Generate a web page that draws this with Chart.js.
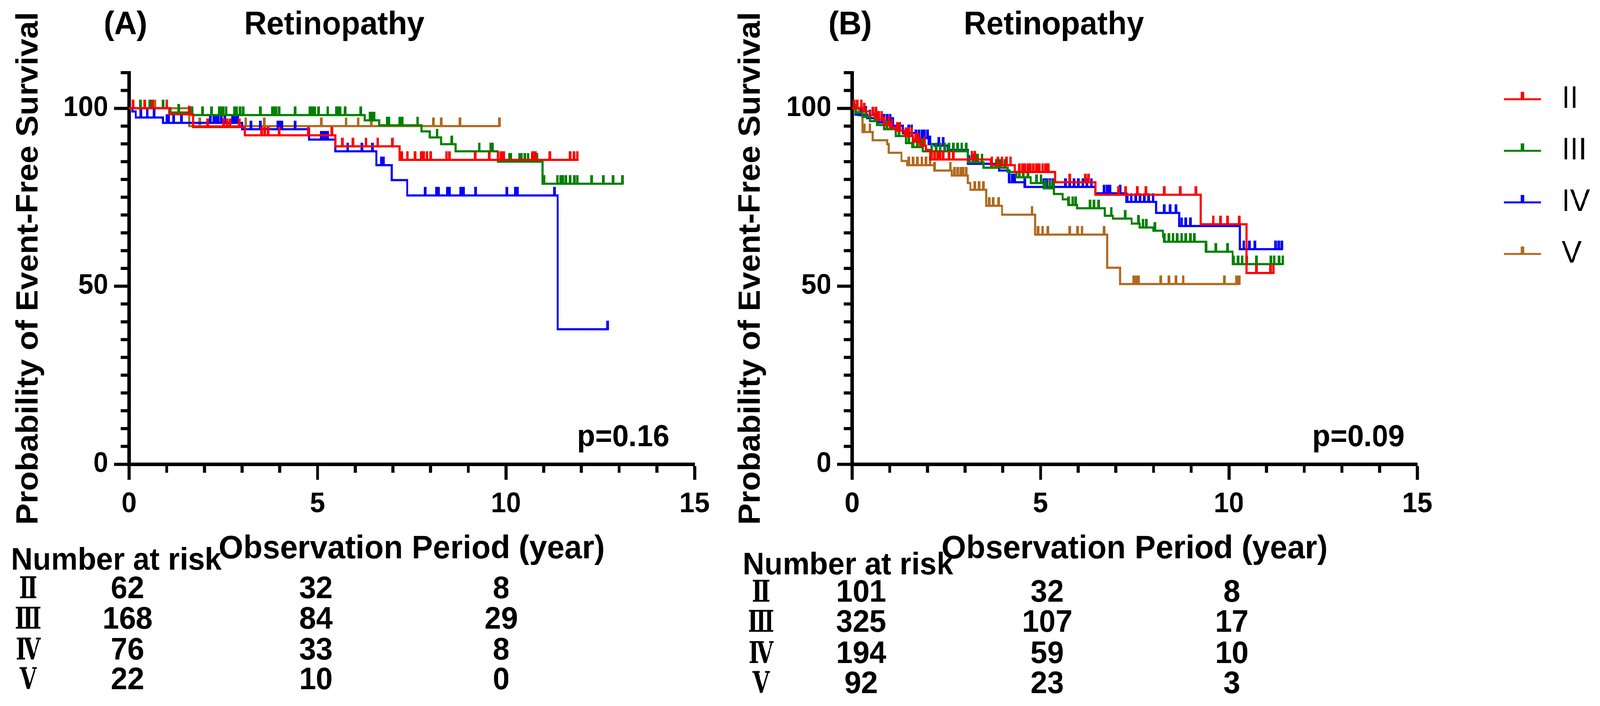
<!DOCTYPE html>
<html>
<head>
<meta charset="utf-8">
<script src="https://cdn.jsdelivr.net/npm/chart.js@4.4.1/dist/chart.umd.min.js"></script>
<style>
  html, body { margin: 0; padding: 0; background: #fff; overflow: hidden; }
  #wrap { position: absolute; left: 0; top: 0; width: 4255px; height: 1807px; background: #fff; transform-origin: 0 0; }
  #wrap canvas { position: absolute; top: 0; }
  #chartA { left: 0; }
  #chartB { left: 1940px; }
</style>
</head>
<body>
<div id="wrap">
  <canvas id="chartA" width="1940" height="1807"></canvas>
  <canvas id="chartB" width="2315" height="1807"></canvas>
</div>
<script>
const groups = ["II", "III", "IV", "V"];
const rowLabels = ["Ⅱ", "Ⅲ", "Ⅳ", "Ⅴ"];
const xTicks = [0, 5, 10, 15];
const yTicks = [0, 50, 100];
const riskTimes = [0, 5, 10];

// (A) Kaplan-Meier steps: [year, survival %]
const aSteps2 = [[0,100],[1.07,98.3],[1.7,94.7],[3.07,92.4],[5.47,89.3],[7.18,85.5],[11.93,85.5]];
const aSteps3 = [[0,100],[1.1,98.8],[1.67,98.1],[6.25,96.6],[6.64,95.2],[7.76,93.5],[7.98,91.8],[8.28,89.9],[8.66,87.9],[9.78,85.0],[10.97,78.8],[13.1,78.8]];
const aSteps4 = [[0,100],[0.09,99.1],[0.18,97.4],[0.9,95.9],[3.0,94.1],[4.78,91.2],[5.47,87.9],[6.56,84.0],[6.97,79.8],[7.38,75.5],[11.37,37.9],[12.71,37.9]];
const aSteps5 = [[0,100],[1.6,95.0],[9.83,95.0]];

// (A) censored times
const aCens2 = [0.1,0.41,0.62,1.0,1.6,2.09,2.51,2.6,2.68,2.93,3.52,3.6,3.7,3.98,4.76,5.38,5.66,5.94,6.29,6.6,6.99,7.24,7.39,7.58,7.75,7.81,7.9,8.0,8.42,8.5,9.18,9.56,9.79,9.87,9.94,10.71,10.78,11.17,11.7,11.8,11.89];
const aCens3 = [0.1,0.3,0.55,0.9,1.0,1.32,1.67,1.95,2.19,2.4,2.44,2.5,2.58,2.8,2.86,2.95,3.03,3.49,3.8,3.84,3.9,3.98,4.4,4.8,4.85,4.92,5.03,5.27,5.5,5.55,5.6,5.73,6.15,6.4,6.46,6.5,6.85,6.9,7.19,7.25,7.65,8.17,8.56,9.29,9.6,9.64,10.1,10.13,10.36,10.41,10.5,10.59,10.7,10.82,11.01,11.36,11.45,11.5,11.58,11.7,11.81,11.89,12.27,12.58,12.84,13.09];
const aCens4 = [0.31,0.48,0.66,1.0,1.05,1.18,1.39,2.16,2.25,2.3,2.37,2.45,2.54,2.75,2.82,2.89,3.24,3.49,3.94,4.0,4.05,4.4,5.1,5.15,5.2,5.27,5.8,6.18,6.46,6.7,6.75,7.85,8.15,8.21,8.44,8.5,8.8,8.87,9.19,10.02,10.25,10.31,11.28,12.69];
const aCens5 = [0.69,1.88,3.1,3.59,5.1,5.76,6.08,6.43,8.07,8.28,8.78,9.83];

// (B) Kaplan-Meier steps
const bSteps2 = [[0,100],[0.28,99.1],[0.47,98],[0.65,96.8],[0.85,95.3],[1.0,94.5],[1.16,93.7],[1.39,92.2],[1.62,90.6],[1.8,89.5],[1.96,88.3],[2.07,85.6],[3.68,84],[4.32,82.1],[5.39,79.2],[6.46,75.7],[9.25,67.4],[10.47,53.7],[11.2,53.7]];
const bSteps3 = [[0,100],[0.09,98.8],[0.28,97.6],[0.47,96.4],[0.66,95.3],[0.85,94.1],[1.16,92.2],[1.43,90.2],[1.6,89.1],[1.88,87.9],[3.07,84.8],[3.49,83.3],[4.13,82.1],[4.36,80.6],[4.74,79],[5.09,77.5],[5.36,75.9],[5.59,74.4],[5.74,72.8],[5.97,71.9],[6.71,69.8],[6.92,69],[7.42,67.6],[7.63,66.5],[8.0,65.6],[8.25,63.9],[8.29,62.5],[9.4,59.7],[10.1,56.2],[11.43,56.2]];
const bSteps4 = [[0,100],[0.09,98.2],[0.4,97.2],[0.7,96],[1.08,95.1],[1.35,93],[1.69,91.6],[2.03,89.9],[2.19,89.5],[2.54,88.3],[3.07,84.4],[3.9,82.5],[4.17,79.2],[4.59,77.9],[6.46,76.1],[7.28,73.7],[8.07,70.6],[8.68,66.9],[10.29,60.4],[11.43,60.4]];
const bSteps5 = [[0,100],[0.17,98],[0.28,93.3],[0.55,91],[0.93,89.9],[0.97,87.5],[1.31,85.2],[1.46,84],[2.19,82.5],[2.65,81.1],[3.07,79],[3.14,77.1],[3.56,72.6],[3.98,70.1],[4.86,64.5],[6.77,55.2],[7.11,50.6],[10.27,50.6]];

// (B) censored times
const bCens2 = [0.05,0.13,0.24,0.32,0.55,0.63,0.7,0.78,0.85,0.97,1.05,1.2,1.27,1.43,1.5,1.58,1.69,1.75,1.81,1.92,2.11,2.19,2.27,2.34,2.42,2.57,2.69,3.18,3.26,3.71,3.87,3.98,4.1,4.21,4.44,4.52,4.59,4.67,4.74,4.82,4.9,4.97,5.05,5.13,5.2,5.77,6.19,6.27,7.07,7.26,7.57,7.8,8.29,8.71,9.13,9.59,9.78,9.97,10.27,10.73,11.1,11.18];
const bCens3 = [0.09,0.36,0.61,0.92,1.24,1.5,1.62,1.73,1.85,2.11,2.23,2.34,2.46,2.57,2.69,2.8,2.91,3.03,3.22,3.33,3.45,3.71,3.83,3.94,4.06,4.44,4.55,4.67,4.9,5.01,5.13,5.24,5.35,5.74,5.85,5.93,6.31,6.42,6.54,6.88,7.25,7.6,7.72,7.81,8.04,8.29,8.41,8.52,8.63,8.75,8.86,8.98,9.09,9.4,9.66,9.97,10.12,10.24,10.35,10.47,10.73,11.11,11.2,11.33,11.43];
const bCens4 = [0.24,0.36,0.47,0.78,0.85,0.93,1.01,1.08,1.5,1.58,1.69,1.77,1.85,1.92,2.0,2.07,2.3,2.42,3.1,3.22,3.3,4.17,4.25,4.32,4.59,5.09,5.16,5.24,5.32,5.66,5.77,5.89,6.0,6.12,6.23,6.35,6.69,6.77,6.84,7.11,7.3,7.41,7.53,7.64,7.76,7.87,7.99,8.29,8.44,8.6,8.75,8.86,8.98,10.39,10.54,10.69,11.24,11.32,11.4];
const bCens5 = [0.18,0.32,0.47,1.5,1.62,1.73,1.85,1.96,2.07,2.19,2.61,2.72,2.8,2.88,2.95,3.03,3.26,3.37,3.49,3.64,3.75,3.89,4.78,4.94,5.05,5.19,5.77,5.98,6.1,6.69,7.48,7.55,7.6,8.19,8.41,8.6,8.79,9.89,10.2,10.27];

// number at risk at 0, 5, 10 years
const riskA = [[62, 32, 8], [168, 84, 29], [76, 33, 8], [22, 10, 0]];
const riskB = [[101, 32, 8], [325, 107, 17], [194, 59, 10], [92, 23, 3]];

const colors = ["#ff0000", "#008000", "#0000ff", "#b06a1f"];
const FONT = "'Liberation Sans', Arial, Helvetica, sans-serif";
const ROMAN = "'DejaVu Serif', 'Noto Sans CJK JP', serif";

// the browser may give a narrower viewport than 4255: stretch the drawing to fill it
const sx = window.innerWidth / 4255;
const sy = window.innerHeight / 1807;
document.getElementById("wrap").style.transform = "scale(" + sx + "," + sy + ")";

function levelAt(steps, t) {
  let v = steps[0][1];
  for (const [st, sv] of steps) {
    if (st <= t) v = sv; else break;
  }
  return v;
}

// small upward tick used for censored observations
function censorMark(color, w, up) {
  const c = document.createElement("canvas");
  c.width = w;
  c.height = (up + 2) * 2;
  const g = c.getContext("2d");
  g.fillStyle = color;
  g.fillRect(0, 2, w, up + 2);
  return c;
}

function buildDatasets(stepsList, censList) {
  const ds = [];
  stepsList.forEach((steps, i) => {
    ds.push({
      label: groups[i],
      data: steps.map(([x, y]) => ({ x, y })),
      stepped: true,
      borderColor: colors[i],
      borderWidth: 5.5,
      borderJoinStyle: "miter",
      pointRadius: 0,
      fill: false,
      order: i
    });
    ds.push({
      label: groups[i] + " censored",
      data: censList[i].map(t => ({ x: t, y: levelAt(steps, t) })),
      showLine: false,
      pointStyle: censorMark(colors[i], 7, 22),
      pointRadius: 3,
      order: i
    });
  });
  return ds;
}

const minorTicks = {
  id: "minorTicks",
  afterDraw(chart) {
    const { ctx, scales: { x, y } } = chart;
    ctx.save();
    ctx.strokeStyle = "#000";
    ctx.lineWidth = 8;
    ctx.beginPath();
    for (let v = 1; v <= 15; v++) {
      if (v % 5 === 0) continue;
      const px = x.getPixelForValue(v);
      ctx.moveTo(px, y.bottom);
      ctx.lineTo(px, y.bottom + 22);
    }
    for (let v = 5; v <= 110; v += 5) {
      if (v % 50 === 0) continue;
      const py = y.getPixelForValue(v);
      ctx.moveTo(x.left, py);
      ctx.lineTo(x.left - 22, py);
    }
    ctx.stroke();
    ctx.restore();
  }
};

const kmText = {
  id: "kmText",
  afterDraw(chart, args, o) {
    const ctx = chart.ctx;
    const x = chart.scales.x;
    ctx.save();
    ctx.fillStyle = "#000";
    ctx.textBaseline = "alphabetic";
    ctx.textAlign = "left";
    ctx.font = "bold 83px " + FONT;
    ctx.fillText(o.letter, o.letterX, 88);
    ctx.fillText("Retinopathy", o.titleX, 88);

    ctx.font = "bold 78px " + FONT;
    ctx.textAlign = "right";
    ctx.fillText(o.p, o.pX, 1142);

    ctx.textAlign = "left";
    ctx.font = "bold 80px " + FONT;
    ctx.fillText("Number at risk", o.tableX, o.headY);
    o.risk.forEach((row, r) => {
      const by = o.rowY[r];
      ctx.textAlign = "center";
      ctx.font = "bold 80px " + FONT;
      row.forEach((n, c) => {
        ctx.fillText(String(n), x.getPixelForValue(riskTimes[c]) + o.colOffset[c], by);
      });
      ctx.save();
      ctx.translate(o.labelX, by);
      ctx.scale(0.76, 1);
      ctx.font = "bold 76px " + ROMAN;
      ctx.fillText(rowLabels[r], 0, 0);
      ctx.restore();
    });

    if (o.legend) {
      const L = o.legend;
      groups.forEach((g, i) => {
        const ly = L.y[i];
        ctx.strokeStyle = colors[i];
        ctx.lineWidth = 5;
        ctx.beginPath();
        ctx.moveTo(L.x0, ly);
        ctx.lineTo(L.x1, ly);
        ctx.stroke();
        ctx.fillStyle = colors[i];
        ctx.fillRect((L.x0 + L.x1) / 2 - 4.5, ly - 19, 9, 19);
        ctx.fillStyle = "#000";
        ctx.font = "80px " + FONT;
        ctx.textAlign = "left";
        ctx.textBaseline = "middle";
        ctx.fillText(g, L.textX, ly);
      });
    }
    ctx.restore();
  }
};

function makeChart(id, cfg) {
  return new Chart(document.getElementById(id), {
    type: "line",
    data: { datasets: buildDatasets(cfg.steps, cfg.cens) },
    plugins: [minorTicks, kmText],
    options: {
      responsive: false,
      animation: false,
      devicePixelRatio: 1,
      events: [],
      layout: { padding: { top: 186, right: cfg.padRight, left: 0, bottom: 0 } },
      plugins: {
        legend: { display: false },
        tooltip: { enabled: false },
        kmText: cfg.text
      },
      scales: {
        x: {
          type: "linear",
          min: 0,
          max: 15,
          afterBuildTicks: s => { s.ticks = xTicks.map(v => ({ value: v })); },
          afterFit: s => { s.height = 619; s.paddingLeft = 0; s.paddingRight = 0; },
          grid: { drawOnChartArea: false, drawTicks: true, tickLength: 40, tickWidth: 8, tickColor: "#000" },
          border: { display: true, width: 9, color: "#000" },
          ticks: { font: { family: FONT, size: 72, weight: "bold" }, color: "#000", padding: 20, maxRotation: 0, autoSkip: false },
          title: {
            display: true,
            text: "Observation Period (year)",
            color: "#000",
            font: { family: FONT, size: 84, weight: "bold", lineHeight: 1 },
            padding: { top: 0, bottom: 359 }
          }
        },
        y: {
          type: "linear",
          min: 0,
          max: 110,
          afterBuildTicks: s => { s.ticks = yTicks.map(v => ({ value: v })); },
          afterFit: s => { s.width = cfg.left; s.paddingTop = 0; s.paddingBottom = 0; },
          grid: { drawOnChartArea: false, drawTicks: true, tickLength: 40, tickWidth: 8, tickColor: "#000" },
          border: { display: true, width: 9, color: "#000" },
          ticks: { font: { family: FONT, size: 72, weight: "bold" }, color: "#000", padding: 15 },
          title: {
            display: true,
            text: "Probability of Event-Free Survival",
            color: "#000",
            font: { family: FONT, size: 82, weight: "bold", lineHeight: 1 },
            padding: { top: cfg.yTitlePad, bottom: 0 }
          }
        }
      }
    }
  });
}

makeChart("chartA", {
  steps: [aSteps2, aSteps3, aSteps4, aSteps5],
  cens: [aCens2, aCens3, aCens4, aCens5],
  left: 343,
  padRight: 93,
  yTitlePad: 36,
  text: {
    letter: "(A)", letterX: 276, titleX: 649,
    p: "p=0.16", pX: 1780,
    tableX: 29, headY: 1458, labelX: 75,
    rowY: [1531, 1609, 1688, 1764],
    colOffset: [-4, -4, -13],
    risk: riskA
  }
});

makeChart("chartB", {
  steps: [bSteps2, bSteps3, bSteps4, bSteps5],
  cens: [bCens2, bCens3, bCens4, bCens5],
  left: 326,
  padRight: 486,
  yTitlePad: 16,
  text: {
    letter: "(B)", letterX: 263, titleX: 623,
    p: "p=0.09", pX: 1795,
    tableX: 35, headY: 1470, labelX: 84,
    rowY: [1540, 1617, 1697, 1774],
    colOffset: [24, 18, 8],
    risk: riskB,
    legend: { x0: 2059, x1: 2158, textX: 2213, y: [254, 386, 518, 650] }
  }
});
</script>
</body>
</html>
